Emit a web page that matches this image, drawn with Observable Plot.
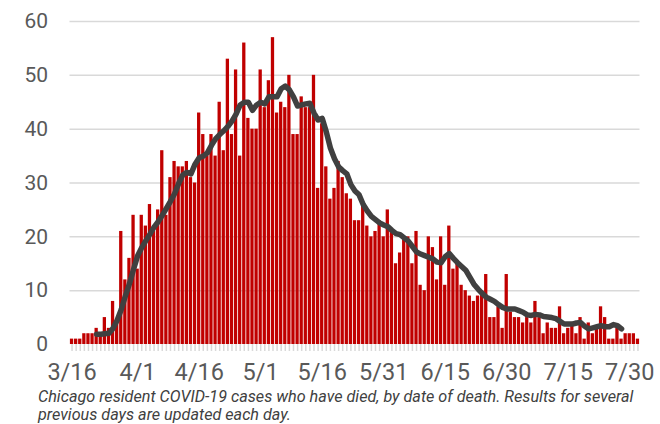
<!DOCTYPE html>
<html><head><meta charset="utf-8">
<script src="https://cdn.jsdelivr.net/npm/d3@7"></script>
<script src="https://cdn.jsdelivr.net/npm/@observablehq/plot@0.6"></script>
<style>
body{margin:0;background:#fff;font-family:Roboto,sans-serif}
#chart svg{display:block}
#caption{font-style:italic;font-size:16.2px;line-height:17.5px;color:#404040;padding-left:38px;margin-top:-2px;white-space:nowrap}
</style></head><body>
<div id="chart"></div>
<div id="caption">Chicago resident COVID-19 cases who have died, by date of death. Results for several<br>previous days are updated each day.</div>
<script>
const startDate = "2020-03-16";
const deaths = [1,1,1,2,2,2,3,2,5,3,8,4,21,12,16,24,14,24,22,26,
21,25,36,24,31,34,33,33,34,31,30,43,39,35,39,35,45,36,53,39,
51,35,56,42,40,40,51,44,49,57,43,45,44,50,39,39,46,44,44,50,
29,41,33,27,29,34,31,28,27,23,23,26,22,20,21,23,20,25,21,15,
17,20,20,15,21,11,10,20,18,12,20,11,22,14,15,11,10,9,8,9,
10,13,5,5,7,3,13,6,5,5,4,5,4,8,5,2,4,3,3,7,
2,3,4,2,5,1,4,2,3,7,5,1,1,3,1,2,2,2,1];
const avgStartIndex = 6;
const avg7 = [1.9,1.9,2.0,2.1,3.0,4.5,6.5,9,11.3,14,16.5,18,19.3,20.5,21.8,22.8,24,25.3,26.6,28,
29.9,31.5,32,31.7,33.5,34.7,35,35.6,37,38.2,39,39.7,40.5,41.5,42.8,44.5,45,45,43.5,44.5,
45,44.7,46,46,46,47.5,48,47.3,46,44.3,44.5,44.7,44.8,43,41.7,42,39.5,36.5,34.5,33,
32.3,31.7,29.7,28.5,27.8,26,24.8,23.8,23.2,22.6,22.2,21.9,21.2,20.6,20.4,19.8,19.2,18.2,17.2,16.8,
16.5,16.2,15.9,15.3,15.2,16.3,16.9,16,15.2,14.5,13.8,12.5,11.2,10.3,9.5,8.8,8.4,8,7.4,6.9,
6.6,6.6,6.6,6.3,6,5.5,5.4,5.6,5.5,5.2,5.1,5,4.8,4.3,3.8,3.8,3.8,4,4.1,3.4,
2.9,3.1,3.3,3.5,3.3,3.3,3.7,3.5,2.9];
const tickLabels = ["3/16","4/1","4/16","5/1","5/16","5/31","6/15","6/30","7/15","7/30"];
const yTicks = [0,10,20,30,40,50,60];

const t0 = new Date(startDate);
const days = d3.utcDay.range(t0, d3.utcDay.offset(t0, deaths.length))
  .map(d => `${d.getUTCMonth()+1}/${d.getUTCDate()}`);
const bars = deaths.map((v, i) => ({day: days[i], v}));
const avg = avg7.map((v, i) => ({day: days[i + avgStartIndex], v}));

const H = 390;
const chart = Plot.plot({
  width: 660, height: H,
  marginLeft: 69.5, marginRight: 20.5, marginTop: 21, marginBottom: H - 344,
  style: {fontFamily: "Roboto, sans-serif", background: "#fff", overflow: "visible"},
  x: {type: "band", domain: days, paddingInner: 0.2, paddingOuter: 0.1, round: false},
  y: {domain: [0, 60]},
  marks: [
    Plot.gridY(yTicks.filter(t => t > 0), {stroke: "#d9d9d9", strokeOpacity: 1, strokeWidth: 1.5}),
    Plot.barY(bars, {x: "day", y: "v", fill: "#c00000"}),
    Plot.line(avg, {x: "day", y: "v", stroke: "#404040", strokeWidth: 5.5, strokeLinejoin: "round", strokeLinecap: "round"}),
    Plot.axisX({ticks: days, tickSize: 7, text: null, stroke: "#d9d9d9", strokeWidth: 1.5, label: null}),
    Plot.axisX({ticks: tickLabels, tickSize: 0, tickPadding: 17, dy: 2, fontSize: 23.5, fill: "#595959", label: null}),
    Plot.axisY({ticks: yTicks, tickSize: 0, tickPadding: 22, fontSize: 21, fill: "#595959", label: null})
  ]
});
document.getElementById("chart").appendChild(chart);
</script>
</body></html>
